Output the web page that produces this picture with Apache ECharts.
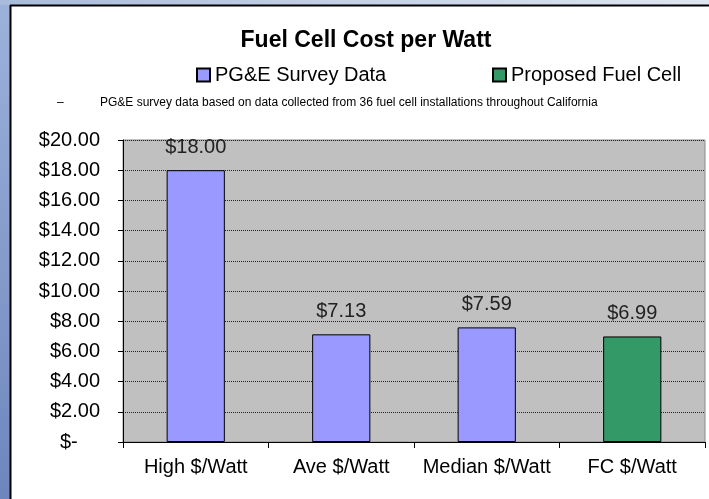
<!DOCTYPE html>
<html><head><meta charset="utf-8">
<script src="https://cdn.jsdelivr.net/npm/echarts@6/dist/echarts.min.js"></script>
<style>html,body{margin:0;padding:0;background:#fff}#c{width:709px;height:499px}</style>
</head><body><div id="c"></div>
<script>
const categories = ['High $/Watt', 'Ave $/Watt', 'Median $/Watt', 'FC $/Watt'];
const surveyValues = [18.00, 7.13, 7.59, '-'];
const proposedValues = ['-', '-', '-', 6.99];
const seriesNames = ['PG&E Survey Data', 'Proposed Fuel Cell'];
const yMin = 0, yMax = 20, yStep = 2;

const FONT = '"Liberation Sans", Arial, sans-serif';
const chart = echarts.init(document.getElementById('c'), null, {renderer: 'canvas'});
const labelOpt = {
  show: true, position: 'top', distance: 13, fontFamily: FONT, fontSize: 20, color: '#222',
  formatter: p => '$' + Number(p.value).toFixed(2)
};
chart.setOption({
  backgroundColor: '#ffffff',
  animation: false,
  graphic: [
    {type: 'rect', shape: {x: 0, y: 0, width: 10, height: 499},
     style: {fill: new echarts.graphic.LinearGradient(0, 0, 0, 1, [{offset: 0, color: '#9db2da'}, {offset: 1, color: '#6d86bd'}])}},
    {type: 'rect', shape: {x: 0, y: 0, width: 709, height: 5},
     style: {fill: new echarts.graphic.LinearGradient(0, 0, 1, 0, [{offset: 0, color: '#a9bbdc'}, {offset: 1, color: '#dfe6f0'}])}},
    {type: 'line', shape: {x1: 10.5, y1: 5, x2: 10.5, y2: 499}, style: {stroke: '#000', lineWidth: 2}},
    {type: 'line', shape: {x1: 10, y1: 5.5, x2: 709, y2: 5.5}, style: {stroke: '#000', lineWidth: 2}}
  ],
  title: [
    {text: 'Fuel Cell Cost per Watt', left: 361, top: 24, textAlign: 'center',
     textStyle: {fontFamily: FONT, fontSize: 23, fontWeight: 'bold', color: '#000'}},
    {text: '–', left: 52, top: 92, textStyle: {fontFamily: FONT, fontSize: 12, fontWeight: 'normal', color: '#000'}},
    {text: 'PG&E survey data based on data collected from 36 fuel cell installations throughout California',
     left: 95, top: 92, textStyle: {fontFamily: FONT, fontSize: 12, fontWeight: 'normal', color: '#000'}}
  ],
  legend: [
    {data: [seriesNames[0]], left: 191, top: 60, itemWidth: 13, itemHeight: 13, icon: 'rect',
     textStyle: {fontFamily: FONT, fontSize: 20, color: '#000'}},
    {data: [seriesNames[1]], left: 487, top: 60, itemWidth: 13, itemHeight: 13, icon: 'rect',
     textStyle: {fontFamily: FONT, fontSize: 20, color: '#000'}}
  ],
  grid: {left: 123, top: 140, right: 4, bottom: 57, show: true, backgroundColor: '#c0c0c0',
         borderColor: '#8a8a8a', borderWidth: 1, containLabel: false},
  xAxis: {
    type: 'category', data: categories,
    axisLine: {lineStyle: {color: '#000', width: 1}},
    axisTick: {show: true, length: 6, lineStyle: {color: '#000'}},
    axisLabel: {interval: 0, fontFamily: FONT, fontSize: 20, color: '#000', margin: 15}
  },
  yAxis: {
    type: 'value', min: yMin, max: yMax, interval: yStep,
    axisLine: {show: true, lineStyle: {color: '#000', width: 1}},
    axisTick: {show: true, length: 5, lineStyle: {color: '#000'}},
    splitLine: {show: true, lineStyle: {color: '#222', type: [1, 1], width: 1}},
    axisLabel: {fontFamily: FONT, fontSize: 20, color: '#000', margin: 23,
      formatter: v => v === 0 ? '$-    ' : '$' + v.toFixed(2)}
  },
  series: [
    {name: seriesNames[0], type: 'bar', data: surveyValues, barWidth: '40%', barGap: '-100%',
     itemStyle: {color: '#9999ff', borderColor: '#000', borderWidth: 1}, label: labelOpt},
    {name: seriesNames[1], type: 'bar', data: proposedValues, barWidth: '40%', barGap: '-100%',
     itemStyle: {color: '#339966', borderColor: '#000', borderWidth: 1}, label: labelOpt}
  ]
});
</script></body></html>
